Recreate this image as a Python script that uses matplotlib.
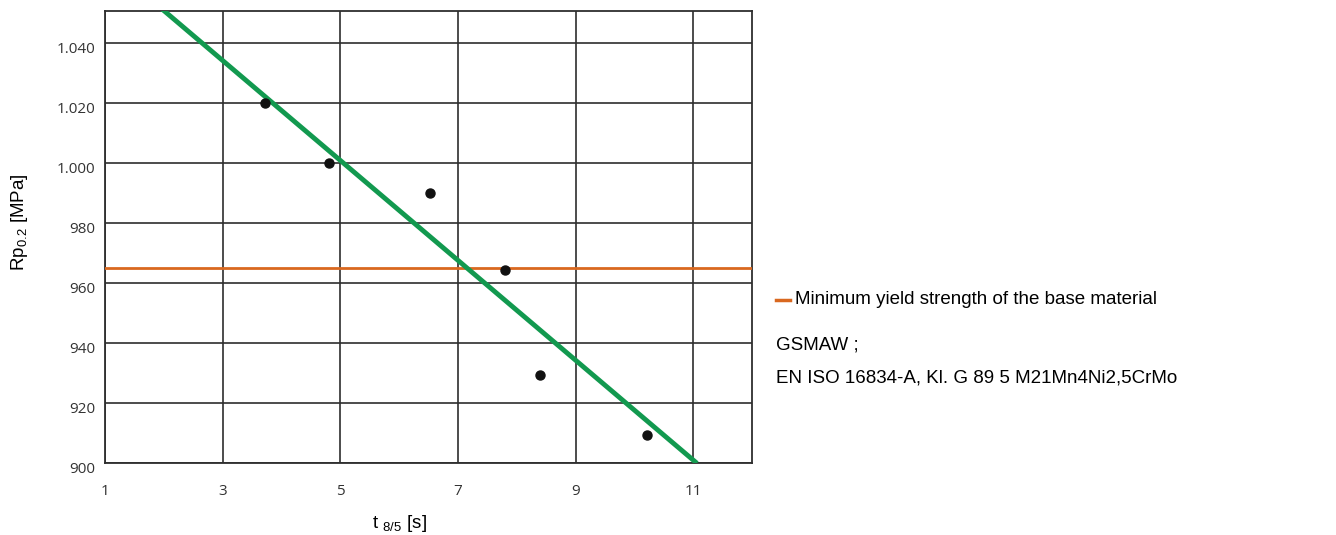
import matplotlib
matplotlib.use("Agg")
import matplotlib.pyplot as plt
from matplotlib.lines import Line2D
from matplotlib.transforms import ScaledTranslation

# measured points: t8/5 [s] vs Rp0.2 [MPa]
t85 = [3.72, 4.81, 6.52, 7.80, 8.39, 10.21]
rp02 = [1020, 1000, 990, 964.5, 929.5, 909.5]

# trend line (two ends of the fitted line)
trend_t = [1.0, 11.06]
trend_rp = [1067.6, 900.0]

min_yield = 965  # base material

x_ticks = [1, 3, 5, 7, 9, 11]
y_ticks = [900, 920, 940, 960, 980, 1000, 1020, 1040]
y_ticklabels = ["900", "920", "940", "960", "980", "1.000", "1.020", "1.040"]

GREEN = "#12994f"
ORANGE = "#d9681f"
GRID = "#2e2e2e"
W, H = 1336, 535

fig = plt.figure(figsize=(W / 100, H / 100), dpi=100)
ax = fig.add_axes([105 / W, 1 - 463.3 / H, (752.3 - 105) / W, (463.3 - 10.7) / H])

ax.axhline(min_yield, color=ORANGE, lw=2.0, zorder=3)
ax.plot(trend_t, trend_rp, color=GREEN, lw=3.5, solid_capstyle="butt", zorder=4)
ax.plot(t85, rp02, "o", color="#111111", ms=6.5, zorder=5)

ax.set_xlim(1, 12)
ax.set_ylim(900, 1050.9)
ax.set_xticks(x_ticks)
ax.set_yticks(y_ticks)
ax.set_yticklabels(y_ticklabels)
ax.grid(True, color=GRID, lw=1.2)
ax.set_axisbelow(True)
for s in ax.spines.values():
    s.set_color(GRID)
    s.set_linewidth(1.3)

ax.tick_params(axis="both", length=0, labelsize=11, labelcolor="#333333")
ax.tick_params(axis="x", pad=15)
ax.tick_params(axis="y", pad=7)
for lab in ax.get_xticklabels() + ax.get_yticklabels():
    lab.set_fontfamily("Open Sans")
for lab in ax.get_yticklabels():
    lab.set_transform(lab.get_transform() + ScaledTranslation(0, -4 / 100, fig.dpi_scale_trans))

ax.set_ylabel(r"Rp$_\mathregular{0.2}$ [MPa]", family="Liberation Sans", fontsize=13.5, va="center")
ax.yaxis.set_label_coords((19 - 105) / 647.3, (463.3 - 222) / 452.6)
ax.set_xlabel(r"t $_\mathregular{8/5}$ [s]", family="Liberation Sans", fontsize=13.5, va="center")
ax.xaxis.set_label_coords((400 - 105) / 647.3, (463.3 - 524) / 452.6)

# legend-like block on the right
fig.add_artist(Line2D([776 / W, 790 / W], [1 - 300 / H, 1 - 300 / H],
                      color=ORANGE, lw=2.5, transform=fig.transFigure))
txt = dict(family="Liberation Sans", fontsize=13.5, va="center")
fig.text(795 / W, 1 - 300 / H, "Minimum yield strength of the base material", **txt)
fig.text(776 / W, 1 - 345 / H, "GSMAW ;", **txt)
fig.text(776 / W, 1 - 378 / H, "EN ISO 16834-A, Kl. G 89 5 M21Mn4Ni2,5CrMo", **txt)

fig.savefig("out.png", dpi=100, facecolor="white")
